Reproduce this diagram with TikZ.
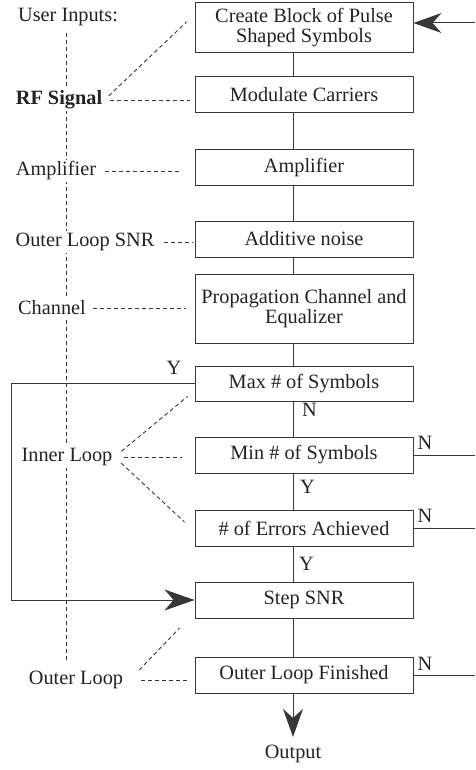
\documentclass[tikz,border=0pt]{standalone}
\usepackage{fontspec}
\setmainfont{Liberation Serif}
\usetikzlibrary{positioning,arrows.meta,calc}
\definecolor{inkclr}{RGB}{55,55,55}
\definecolor{txtclr}{RGB}{35,35,35}
\tikzset{
  blk/.style={rectangle,draw=inkclr,line width=1pt,minimum width=218pt,
              minimum height=36pt,inner sep=2pt,align=center,text=txtclr,
              font=\fontsize{20.3}{20}\selectfont},
  lbl/.style={fill=white,inner sep=2pt,text=txtclr,
              font=\fontsize{20.3}{20}\selectfont},
  yn/.style={inner sep=1pt,text=txtclr,font=\fontsize{20.3}{20}\selectfont},
  flow/.style={draw=inkclr,line width=1pt},
  bigarr/.style={flow,-{Stealth[length=28pt,width=20pt,inset=9pt]}},
  tie/.style={draw=inkclr,line width=0.9pt,dash pattern=on 4pt off 3pt},
}
\begin{document}
\begin{tikzpicture}[x=1pt,y=-1pt]
\useasboundingbox (0,0) rectangle (475,770);
\coordinate (spine) at (293,0);
\coordinate (loopx) at (11,0);
\coordinate (rim) at (475,0);
\coordinate (ctop) at (66,33);
\coordinate (cbot) at (66,660);

% simulation blocks
\node[blk,minimum height=50pt] (create) at (304,28) {Create Block of Pulse\\Shaped Symbols};
\node[blk] (mod) at (304,95) {Modulate Carriers};
\node[blk,minimum height=35pt] (amp) at (304,167.5) {Amplifier};
\node[blk] (noise) at (304,239) {Additive noise};
\node[blk,minimum height=69pt] (prop) at (304,308.5) {Propagation Channel and\\Equalizer};
\node[blk,minimum height=35pt] (maxsym) at (304,383.5) {Max \# of Symbols};
\node[blk] (minsym) at (304,455) {Min \# of Symbols};
\node[blk] (errs) at (304,528) {\# of Errors Achieved};
\node[blk] (step) at (304,600) {Step SNR};
\node[blk] (finish) at (304,675) {Outer Loop Finished};
\node[yn] (output) at (293,754) {Output};

\foreach \a/\b in {create/mod,mod/amp,amp/noise,noise/prop,prop/maxsym,
                   maxsym/minsym,minsym/errs,errs/step,step/finish}
  \draw[flow] (\a.south -| spine) -- (\b.north -| spine);
\draw[bigarr,shorten >=7pt] (finish.south -| spine) -- (output.north);

% loops
\draw[bigarr] ([yshift=5pt]create.east -| rim) -- ([yshift=5pt]create.east);
\draw[flow] (minsym.east) -- (minsym.east -| rim);
\draw[flow] (errs.east) -- (errs.east -| rim);
\draw[flow] (finish.east) -- (finish.east -| rim);
\draw[bigarr,-{Stealth[length=30pt,width=21pt,inset=9pt]}]
  (maxsym.west) -- (maxsym.west -| loopx) |- (step.west);

\node[yn,anchor=south east] (ymax) at ([shift={(-12,-8)}]maxsym.west) {Y};
\node[yn,anchor=north west,xshift=8pt,yshift=-1pt] (nmax) at (maxsym.south -| spine) {N};
\node[yn,anchor=north west,xshift=6pt,yshift=-6pt] (ymin) at (minsym.south -| spine) {Y};
\node[yn,anchor=north west,xshift=5pt,yshift=-10pt] (yerr) at (errs.south -| spine) {Y};
\node[yn,anchor=north west,xshift=3pt,yshift=1pt] (nmin) at (minsym.north east) {N};
\node[yn,anchor=north west,xshift=3pt,yshift=1pt] (nerr) at (errs.north east) {N};
\node[yn,anchor=north west,xshift=3pt,yshift=1pt] (nfin) at (finish.north east) {N};

% user inputs column
\draw[tie] (ctop) -- (cbot);
\node[lbl] (inputs) at (68,17) {User Inputs:};
\node[lbl,font=\fontsize{20.3}{20}\selectfont\bfseries] (rf) at (59,100) {RF Signal};
\node[lbl] (amplbl) at (56,171) {Amplifier};
\node[lbl] (snr) at (85,242) {Outer Loop SNR};
\node[lbl] (chan) at (52,308) {Channel};
\node[lbl] (inner) at (67,457) {Inner Loop};
\node[lbl] (outer) at (76,680) {Outer Loop};

\draw[tie,shorten <=6pt] (rf.east) -- ([shift={(-8,-6)}]create.west);
\draw[tie,shorten <=6pt,shorten >=5pt] (rf.east) -- (rf.east -| mod.west);
\draw[tie,shorten <=7pt,shorten >=13pt] (amplbl.east) -- (amplbl.east -| amp.west);
\draw[tie,shorten <=7pt,shorten >=2pt] (snr.east) -- (snr.east -| noise.west);
\draw[tie,shorten <=5pt,shorten >=9pt] (chan.east) -- (chan.east -| prop.west);
\draw[tie,shorten <=9pt] (inner.east) -- ([shift={(-7,13)}]maxsym.west);
\draw[tie,shorten <=9pt,shorten >=13pt] (inner.east) -- (inner.east -| minsym.west);
\draw[tie,shorten <=9pt] (inner.east) -- ([shift={(-10,-6)}]errs.west);
\draw[tie] ([shift={(14,-10)}]outer.east) -- ([shift={(-15,28)}]step.west);
\draw[tie,shorten <=16pt,shorten >=8pt] (outer.east) -- (outer.east -| finish.west);
\end{tikzpicture}
\end{document}
